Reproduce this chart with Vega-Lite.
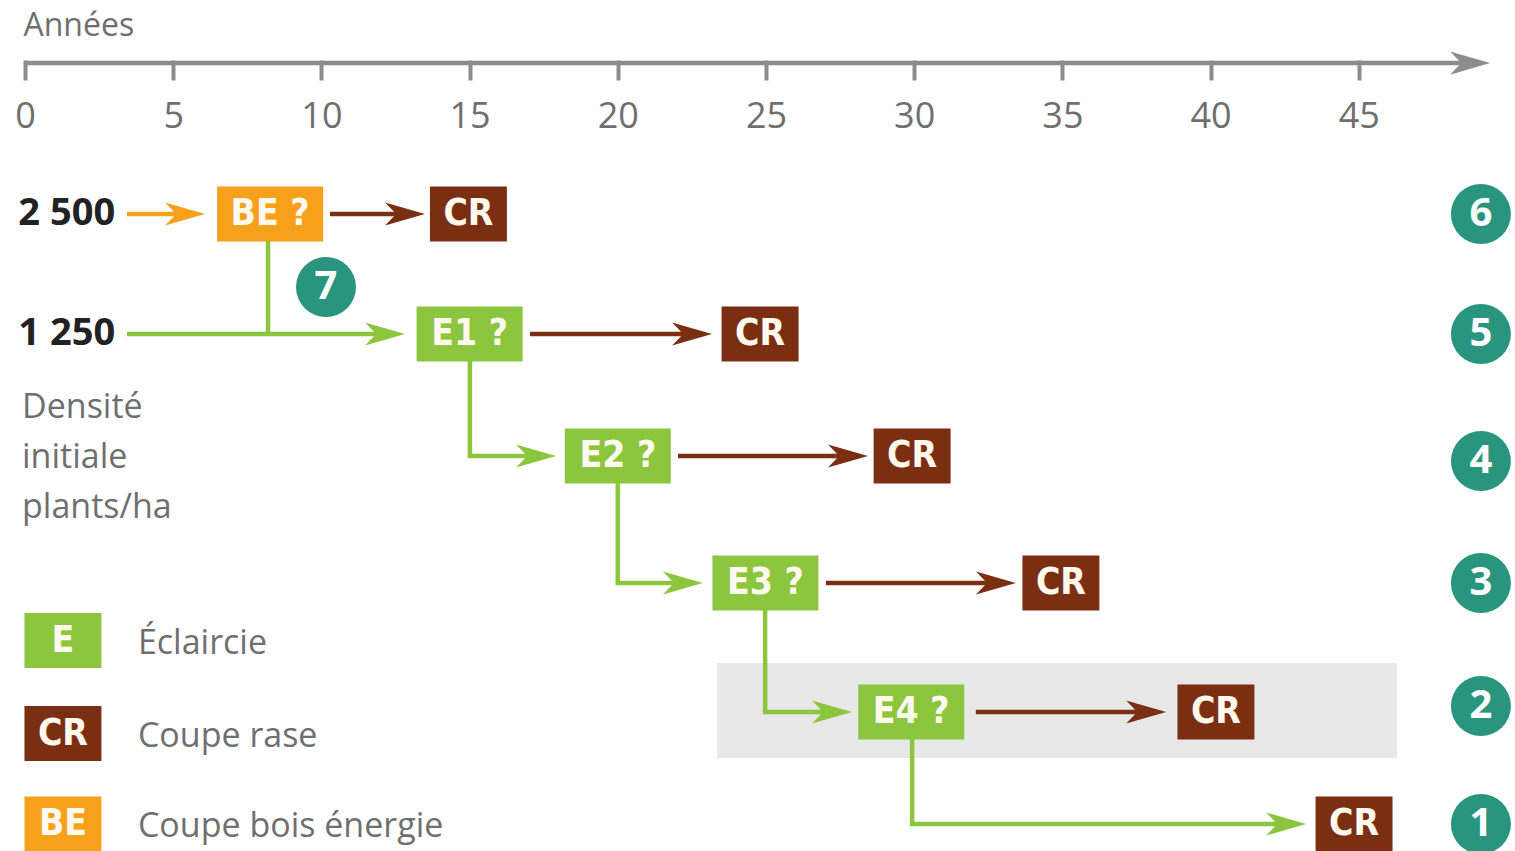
{
  "$schema": "https://vega.github.io/schema/vega-lite/v6.json",
  "width": 1515,
  "height": 851,
  "autosize": {"type": "fit", "contains": "padding"},
  "padding": 0,
  "background": "#ffffff",
  "config": {
    "view": {"stroke": null},
    "axisX": {
      "domain": false,
      "grid": false,
      "ticks": true,
      "tickSize": 20,
      "tickWidth": 4,
      "tickColor": "#8c8c8c",
      "labelFont": "Open Sans",
      "labelFontSize": 36,
      "labelColor": "#6f6f6f",
      "labelPadding": 19,
      "labelAngle": 0,
      "labelOverlap": false,
      "labelFlush": false,
      "labelBound": false,
      "offset": -788,
      "titleFont": "Open Sans",
      "titleFontSize": 32,
      "titleFontWeight": "normal",
      "titleColor": "#6f6f6f",
      "titleX": 23,
      "titleY": -25,
      "titleAlign": "left",
      "titleBaseline": "alphabetic"
    }
  },
  "datasets": {
    "band": [{"x": 23.35, "x2": 46.29, "y": 2.38, "y2": 1.589}],
    "lines": [
      {"path": "axis", "kind": "axis", "i": 0, "x": 0, "y": 7.258},
      {"path": "axis", "kind": "axis", "i": 1, "x": 48.9, "y": 7.258},
      {"path": "o6", "kind": "BE", "i": 0, "x": 3.44, "y": 6},
      {"path": "o6", "kind": "BE", "i": 1, "x": 5.62, "y": 6},
      {"path": "b6", "kind": "CR", "i": 0, "x": 10.29, "y": 6},
      {"path": "b6", "kind": "CR", "i": 1, "x": 13.05, "y": 6},
      {"path": "g5", "kind": "E", "i": 0, "x": 3.44, "y": 5},
      {"path": "g5", "kind": "E", "i": 1, "x": 12.37, "y": 5},
      {"path": "v5", "kind": "E", "i": 0, "x": 8.2, "y": 6},
      {"path": "v5", "kind": "E", "i": 1, "x": 8.2, "y": 5},
      {"path": "b5", "kind": "CR", "i": 0, "x": 17.04, "y": 5},
      {"path": "b5", "kind": "CR", "i": 1, "x": 22.73, "y": 5},
      {"path": "g4", "kind": "E", "i": 0, "x": 15.01, "y": 5},
      {"path": "g4", "kind": "E", "i": 1, "x": 15.01, "y": 4},
      {"path": "g4", "kind": "E", "i": 2, "x": 17.47, "y": 4},
      {"path": "b4", "kind": "CR", "i": 0, "x": 22.03, "y": 4},
      {"path": "b4", "kind": "CR", "i": 1, "x": 28.0, "y": 4},
      {"path": "g3", "kind": "E", "i": 0, "x": 20.0, "y": 4},
      {"path": "g3", "kind": "E", "i": 1, "x": 20.0, "y": 3},
      {"path": "g3", "kind": "E", "i": 2, "x": 22.42, "y": 3},
      {"path": "b3", "kind": "CR", "i": 0, "x": 27.02, "y": 3},
      {"path": "b3", "kind": "CR", "i": 1, "x": 32.98, "y": 3},
      {"path": "g2", "kind": "E", "i": 0, "x": 24.97, "y": 3},
      {"path": "g2", "kind": "E", "i": 1, "x": 24.97, "y": 2},
      {"path": "g2", "kind": "E", "i": 2, "x": 27.45, "y": 2},
      {"path": "b2", "kind": "CR", "i": 0, "x": 32.08, "y": 2},
      {"path": "b2", "kind": "CR", "i": 1, "x": 38.05, "y": 2},
      {"path": "g1", "kind": "E", "i": 0, "x": 29.93, "y": 2},
      {"path": "g1", "kind": "E", "i": 1, "x": 29.93, "y": 1},
      {"path": "g1", "kind": "E", "i": 2, "x": 42.77, "y": 1}
    ],
    "heads": [
      {"kind": "axis", "x": 49.43, "y": 7.258},
      {"kind": "BE", "x": 6.073, "y": 6},
      {"kind": "CR", "x": 13.495, "y": 6},
      {"kind": "E", "x": 12.82, "y": 5},
      {"kind": "CR", "x": 23.18, "y": 5},
      {"kind": "E", "x": 17.915, "y": 4},
      {"kind": "CR", "x": 28.44, "y": 4},
      {"kind": "E", "x": 22.87, "y": 3},
      {"kind": "CR", "x": 33.43, "y": 3},
      {"kind": "E", "x": 27.9, "y": 2},
      {"kind": "CR", "x": 38.5, "y": 2},
      {"kind": "E", "x": 43.22, "y": 1}
    ],
    "stages": [
      {"label": "BE ?", "kind": "BE", "x": 8.27, "y": 6},
      {"label": "CR", "kind": "CR", "x": 14.96, "y": 6},
      {"label": "E1 ?", "kind": "E", "x": 15.0, "y": 5},
      {"label": "CR", "kind": "CR", "x": 24.8, "y": 5},
      {"label": "E2 ?", "kind": "E", "x": 20.0, "y": 4},
      {"label": "CR", "kind": "CR", "x": 29.93, "y": 4},
      {"label": "E3 ?", "kind": "E", "x": 24.98, "y": 3},
      {"label": "CR", "kind": "CR", "x": 34.95, "y": 3},
      {"label": "E4 ?", "kind": "E", "x": 29.9, "y": 2},
      {"label": "CR", "kind": "CR", "x": 40.18, "y": 2},
      {"label": "CR", "kind": "CR", "x": 44.84, "y": 1}
    ],
    "legend": [
      {"label": "E", "kind": "E", "text": "Éclaircie", "x": 1.28, "tx": 3.81, "y": 2.554},
      {"label": "CR", "kind": "CR", "text": "Coupe rase", "x": 1.28, "tx": 3.81, "y": 1.808},
      {"label": "BE", "kind": "BE", "text": "Coupe bois énergie", "x": 1.28, "tx": 3.81, "y": 1.0}
    ],
    "circles": [
      {"n": "6", "x": 49.12, "y": 6},
      {"n": "5", "x": 49.12, "y": 5},
      {"n": "4", "x": 49.12, "y": 3.96},
      {"n": "3", "x": 49.12, "y": 3},
      {"n": "2", "x": 49.12, "y": 2.047},
      {"n": "1", "x": 49.12, "y": 1},
      {"n": "7", "x": 10.155, "y": 5.392}
    ],
    "densities": [
      {"text": "2 500", "x": 3.04, "y": 6},
      {"text": "1 250", "x": 3.04, "y": 5}
    ],
    "ytitle": [
      {"text": "Densité", "x": -0.1, "y": 4.311},
      {"text": "initiale", "x": -0.1, "y": 3.906},
      {"text": "plants/ha", "x": -0.1, "y": 3.512}
    ]
  },
  "layer": [
    {
      "data": {"name": "band"},
      "mark": {"type": "rect", "color": "#e8e8e8"},
      "encoding": {
        "x": {
          "field": "x", "type": "quantitative",
          "scale": {"domain": [-0.8435, 50.27], "nice": false, "zero": false},
          "axis": {"values": [0, 5, 10, 15, 20, 25, 30, 35, 40, 45], "title": "Années"}
        },
        "x2": {"field": "x2"},
        "y": {
          "field": "y", "type": "quantitative",
          "scale": {"domain": [1, 2, 3, 4, 5, 6], "range": [824, 712, 583, 456, 334, 214], "nice": false, "zero": false},
          "axis": null
        },
        "y2": {"field": "y2"}
      }
    },
    {
      "data": {"name": "lines"},
      "mark": {"type": "line", "strokeWidth": 4.5, "strokeCap": "butt", "strokeJoin": "miter"},
      "encoding": {
        "x": {"field": "x", "type": "quantitative"},
        "y": {"field": "y", "type": "quantitative", "axis": null},
        "detail": {"field": "path"},
        "order": {"field": "i", "type": "quantitative"},
        "color": {
          "field": "kind", "type": "nominal", "legend": null,
          "scale": {"domain": ["E", "CR", "BE", "axis"], "range": ["#8cc63f", "#7a2e12", "#f6a01c", "#8c8c8c"]}
        }
      }
    },
    {
      "data": {"name": "heads"},
      "mark": {"type": "point", "filled": true, "opacity": 1, "size": 6400, "strokeWidth": 0, "shape": "M0,0L-1,-0.29L-0.72,0L-1,0.29Z"},
      "encoding": {
        "x": {"field": "x", "type": "quantitative"},
        "y": {"field": "y", "type": "quantitative", "axis": null},
        "color": {"field": "kind", "type": "nominal", "legend": null}
      }
    },
    {
      "data": {"name": "stages"},
      "mark": {"type": "point", "filled": true, "opacity": 1, "size": 11236, "strokeWidth": 0},
      "encoding": {
        "x": {"field": "x", "type": "quantitative"},
        "y": {"field": "y", "type": "quantitative", "axis": null},
        "color": {"field": "kind", "type": "nominal", "legend": null},
        "shape": {
          "field": "kind", "type": "nominal", "legend": null,
          "scale": {"domain": ["E", "BE", "CR"], "range": ["M-1,-0.519H1V0.519H-1Z", "M-1,-0.519H1V0.519H-1Z", "M-0.726,-0.519H0.726V0.519H-0.726Z"]}
        }
      }
    },
    {
      "data": {"name": "legend"},
      "mark": {"type": "point", "filled": true, "opacity": 1, "size": 11236, "strokeWidth": 0, "shape": "M-0.726,-0.519H0.726V0.519H-0.726Z"},
      "encoding": {
        "x": {"field": "x", "type": "quantitative"},
        "y": {"field": "y", "type": "quantitative", "axis": null},
        "color": {"field": "kind", "type": "nominal", "legend": null}
      }
    },
    {
      "data": {"name": "stages"},
      "mark": {"type": "text", "font": "DejaVu Sans Condensed", "fontWeight": "bold", "fontSize": 37, "color": "#fff9ee", "align": "center", "baseline": "middle"},
      "encoding": {
        "x": {"field": "x", "type": "quantitative"},
        "y": {"field": "y", "type": "quantitative", "axis": null},
        "text": {"field": "label"}
      }
    },
    {
      "data": {"name": "legend"},
      "mark": {"type": "text", "font": "DejaVu Sans Condensed", "fontWeight": "bold", "fontSize": 37, "color": "#fff9ee", "align": "center", "baseline": "middle"},
      "encoding": {
        "x": {"field": "x", "type": "quantitative"},
        "y": {"field": "y", "type": "quantitative", "axis": null},
        "text": {"field": "label"}
      }
    },
    {
      "data": {"name": "legend"},
      "mark": {"type": "text", "font": "Open Sans", "fontSize": 34, "color": "#6f6f6f", "align": "left", "baseline": "middle", "dy": 3},
      "encoding": {
        "x": {"field": "tx", "type": "quantitative"},
        "y": {"field": "y", "type": "quantitative", "axis": null},
        "text": {"field": "text"}
      }
    },
    {
      "data": {"name": "circles"},
      "mark": {"type": "point", "shape": "circle", "filled": true, "opacity": 1, "size": 3600, "strokeWidth": 0, "color": "#2a957f"},
      "encoding": {
        "x": {"field": "x", "type": "quantitative"},
        "y": {"field": "y", "type": "quantitative", "axis": null}
      }
    },
    {
      "data": {"name": "circles"},
      "mark": {"type": "text", "font": "Open Sans", "fontWeight": "bold", "fontSize": 40, "color": "#ffffff", "align": "center", "baseline": "middle"},
      "encoding": {
        "x": {"field": "x", "type": "quantitative"},
        "y": {"field": "y", "type": "quantitative", "axis": null},
        "text": {"field": "n"}
      }
    },
    {
      "data": {"name": "densities"},
      "mark": {"type": "text", "font": "Open Sans", "fontWeight": "bold", "fontSize": 38, "color": "#222222", "align": "right", "baseline": "middle"},
      "encoding": {
        "x": {"field": "x", "type": "quantitative"},
        "y": {"field": "y", "type": "quantitative", "axis": null},
        "text": {"field": "text"}
      }
    },
    {
      "data": {"name": "ytitle"},
      "mark": {"type": "text", "font": "Open Sans", "fontSize": 34, "color": "#6f6f6f", "align": "left", "baseline": "alphabetic"},
      "encoding": {
        "x": {"field": "x", "type": "quantitative"},
        "y": {"field": "y", "type": "quantitative", "axis": null},
        "text": {"field": "text"}
      }
    }
  ]
}
